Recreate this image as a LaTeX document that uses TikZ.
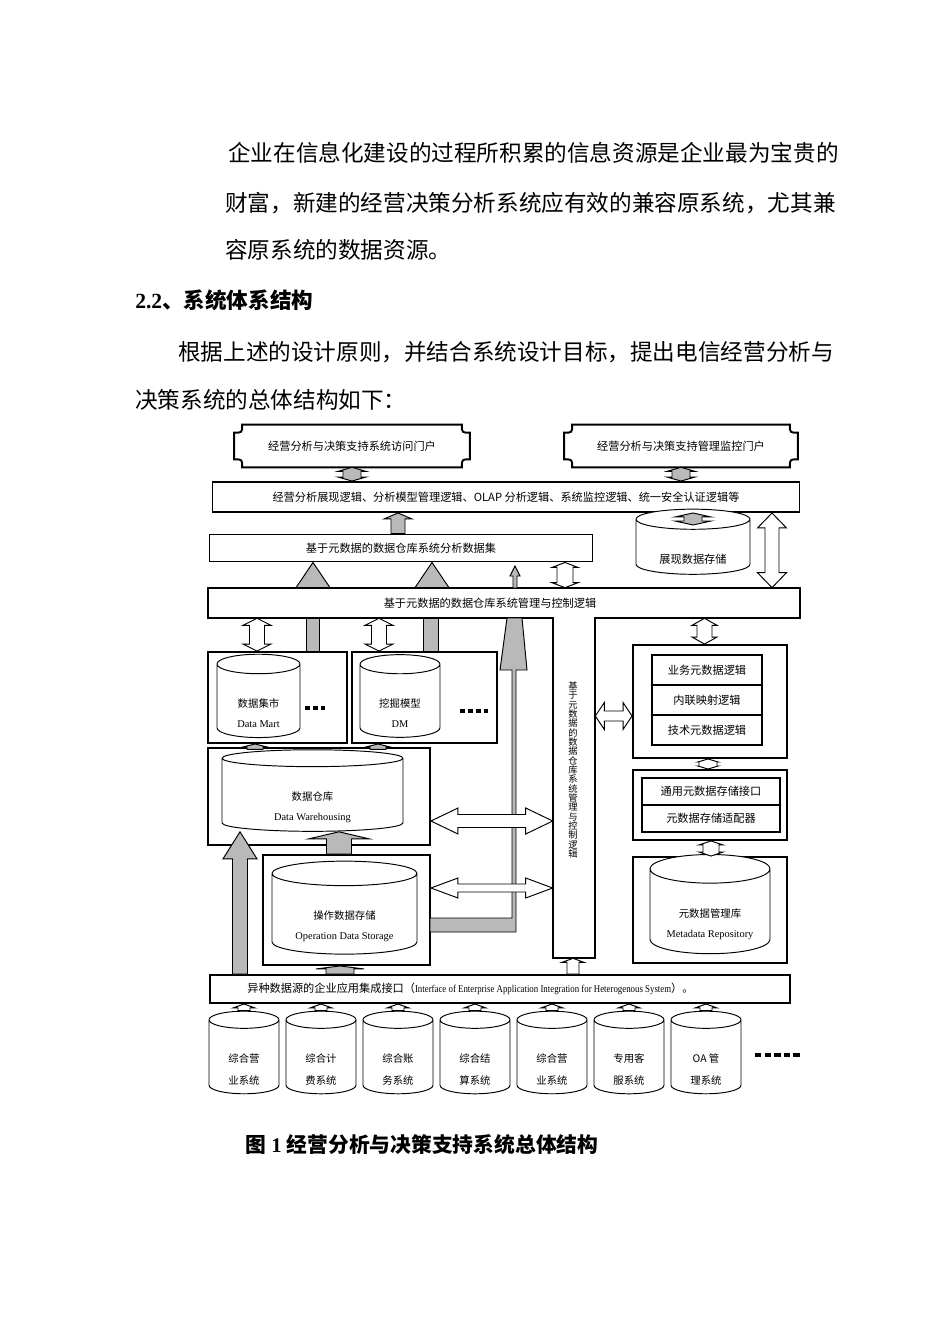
\documentclass[tikz,border=0pt]{standalone}
\usepackage{fontspec}
\usepackage{graphicx}
\setmainfont{Liberation Serif}
\newfontfamily\cjk{Noto Sans CJK SC}
\usetikzlibrary{shapes.geometric,calc}

\newcommand{\pxl}{0.626pt}
\newcommand{\sink}{\rule{0pt}{21pt}}

\tikzset{
  sz/.style 2 args={minimum width=#1*\pxl, minimum height=#2*\pxl},
  heavy/.style={line width=1.2pt},
  box/.style={draw, heavy, fill=white, inner sep=0pt},
  small/.style={font=\cjk\fontsize{7pt}{8pt}\selectfont},
  bar/.style={box, small},
  row/.style={draw, line width=0.9pt, inner sep=0pt, sz={110}{30}, small},
  db/.style={cylinder, shape border rotate=90, draw, line width=0.6pt, aspect=0.4,
    inner sep=0pt, align=center, fill=white, font=\fontsize{6.5pt}{12.5pt}\selectfont},
  src/.style={db, sz={70}{82}, aspect=0.55, font=\cjk\fontsize{6.5pt}{13.8pt}\selectfont},
  blk/.style={draw, line width=0.6pt, fill=white},
  gblk/.style={blk, fill=gray!55},
  dashline/.style={line width=2.2pt, dash pattern=on 3pt off 2pt},
  para/.style={inner sep=0pt, anchor=west, font=\cjk\fontsize{14.15pt}{17pt}\selectfont},
  vtxt/.style={inner sep=0pt, align=center, font=\cjk\fontsize{5.8pt}{5.85pt}\selectfont},
}

%% block arrows: x (or y) in px, ends taken from two anchors
%% [style]{x}{lower}{upper}{half shaft}{half head}{head length}
\newcommand{\vdbl}[7][]{%
  \path[blk,#1] let \p1=(#3), \p2=(#4) in
    ({#2*\pxl},\y1) -- ({(#2+#6)*\pxl},{\y1+#7*\pxl}) -- ({(#2+#5)*\pxl},{\y1+#7*\pxl})
    -- ({(#2+#5)*\pxl},{\y2-#7*\pxl}) -- ({(#2+#6)*\pxl},{\y2-#7*\pxl}) -- ({#2*\pxl},\y2)
    -- ({(#2-#6)*\pxl},{\y2-#7*\pxl}) -- ({(#2-#5)*\pxl},{\y2-#7*\pxl})
    -- ({(#2-#5)*\pxl},{\y1+#7*\pxl}) -- ({(#2-#6)*\pxl},{\y1+#7*\pxl}) -- cycle;}
\newcommand{\vup}[7][]{%
  \path[blk,#1] let \p1=(#3), \p2=(#4) in
    ({(#2-#5)*\pxl},\y1) -- ({(#2+#5)*\pxl},\y1) -- ({(#2+#5)*\pxl},{\y2-#7*\pxl})
    -- ({(#2+#6)*\pxl},{\y2-#7*\pxl}) -- ({#2*\pxl},\y2) -- ({(#2-#6)*\pxl},{\y2-#7*\pxl})
    -- ({(#2-#5)*\pxl},{\y2-#7*\pxl}) -- cycle;}
%% [style]{y}{left}{right}{half shaft}{half head}{head length}
\newcommand{\hdbl}[7][]{%
  \path[blk,#1] let \p1=(#3), \p2=(#4) in
    (\x1,{-#2*\pxl}) -- ({\x1+#7*\pxl},{-(#2-#6)*\pxl}) -- ({\x1+#7*\pxl},{-(#2-#5)*\pxl})
    -- ({\x2-#7*\pxl},{-(#2-#5)*\pxl}) -- ({\x2-#7*\pxl},{-(#2-#6)*\pxl}) -- (\x2,{-#2*\pxl})
    -- ({\x2-#7*\pxl},{-(#2+#6)*\pxl}) -- ({\x2-#7*\pxl},{-(#2+#5)*\pxl})
    -- ({\x1+#7*\pxl},{-(#2+#5)*\pxl}) -- ({\x1+#7*\pxl},{-(#2+#6)*\pxl}) -- cycle;}
%% gray triangle and gray shaft
\newcommand{\vtri}[4]{%
  \path[gblk] let \p1=(#2), \p2=(#3) in
    ({(#1-#4)*\pxl},\y1) -- ({#1*\pxl},\y2) -- ({(#1+#4)*\pxl},\y1) -- cycle;}
\newcommand{\vshaft}[4]{%
  \path[gblk] let \p1=(#2), \p2=(#3) in
    ({(#1-#4)*\pxl},\y1) rectangle ({(#1+#4)*\pxl},\y2);}
%% frame with hollow corners round a node
\newcommand{\plaque}[1]{%
  \draw[heavy] let \p1=(#1.south west), \p2=(#1.north east) in
    ({\x1+5pt},\y1) -- ({\x2-5pt},\y1) .. controls ({\x2-5pt},{\y1+5pt}) .. (\x2,{\y1+5pt})
    -- (\x2,{\y2-5pt}) .. controls ({\x2-5pt},{\y2-5pt}) .. ({\x2-5pt},\y2)
    -- ({\x1+5pt},\y2) .. controls ({\x1+5pt},{\y2-5pt}) .. (\x1,{\y2-5pt})
    -- (\x1,{\y1+5pt}) .. controls ({\x1+5pt},{\y1+5pt}) .. ({\x1+5pt},\y1) -- cycle;}

\begin{document}
\begin{tikzpicture}[x=0.626pt, y=-0.626pt]
\useasboundingbox[fill=white] (0,0) rectangle (950,1344);

%% page text
\node[para] (p1) at (228,153) {企业在信息化建设的过程所积累的信息资源是企业最为宝贵的};
\node[para] (p2) at (225,203) {财富，新建的经营决策分析系统应有效的兼容原系统，尤其兼};
\node[para] (p3) at (225,250) {容原系统的数据资源。};
\node[para, font=\bfseries\fontsize{13.5pt}{16pt}\selectfont] (sec) at (135,300) {2.2{\cjk 、系统体系结构}};
\node[para] (p4) at (178,352) {根据上述的设计原则，并结合系统设计目标，提出电信经营分析与};
\node[para] (p5) at (135,400) {决策系统的总体结构如下：};
\node[para, font=\bfseries\fontsize{13pt}{16pt}\selectfont] (cap) at (245,1145) {{\cjk 图} 1 {\cjk 经营分析与决策支持系统总体结构}};

%% portals
\node[small, sz={235}{42}] (visit) at (352,446) {经营分析与决策支持系统访问门户};
\node[small, sz={233}{42}] (monitor) at (681,446) {经营分析与决策支持管理监控门户};
\plaque{visit}
\plaque{monitor}

%% upper layers
\node[bar, sz={587}{30}] (logic) at (506,497) {经营分析展现逻辑、分析模型管理逻辑、OLAP 分析逻辑、系统监控逻辑、统一安全认证逻辑等};
\node[bar, sz={383}{27}] (dataset) at (401,548) {基于元数据的数据仓库系统分析数据集};
\node[db, sz={114}{63}, aspect=0.3, small] (show) at (693,547) {\sink 展现数据存储};
\coordinate (showtop) at (693,525);

%% control layer with its stem
\node[inner sep=0pt, sz={592}{30}] (ctrl) at (504,603) {};
\node[inner sep=0pt, sz={42}{340}] (stem) at (574,788) {};
\path[box] let \p1=(ctrl.north west), \p2=(ctrl.south east), \p3=(stem.south west), \p4=(stem.south east) in
  (\x1,\y1) -- (\x2,\y1) -- (\x2,\y2) -- (\x4,\y2) -- (\x4,\y3) -- (\x3,\y3) -- (\x3,\y2) -- (\x1,\y2) -- cycle;
\node[small] (ctrltxt) at (490,603) {基于元数据的数据仓库系统管理与控制逻辑};
\node[vtxt] (stemtxt) at (573,770) {基\\于\\元\\数\\据\\的\\数\\据\\仓\\库\\系\\统\\管\\理\\与\\控\\制\\逻\\辑};

%% data mart, mining model
\node[box, sz={139}{91}] (martbox) at (277.5,697.5) {};
\node[db, sz={83}{77}, aspect=0.46] (mart) at (258.5,701) {\sink{\cjk 数据集市}\\Data Mart};
\draw[dashline] (305,708) -- (325,708);
\node[box, sz={145}{91}] (dmbox) at (424.5,697.5) {};
\node[db, sz={80}{77}, aspect=0.46] (dm) at (400,701) {\sink{\cjk 挖掘模型}\\DM};
\draw[dashline] (460,711) -- (488,711);

%% warehouse, ods
\node[box, sz={222}{97}] (dwbox) at (319,796.5) {};
\node[db, sz={181}{76}, aspect=0.22] (dw) at (312.5,795) {\sink{\cjk 数据仓库}\\Data Warehousing};
\node[box, sz={167}{110}] (odsbox) at (346.5,910) {};
\node[db, sz={145}{88}, aspect=0.25] (ods) at (344.5,914) {\sink{\cjk 操作数据存储}\\Operation Data Storage};

%% metadata side
\node[box, sz={154}{113}] (metabox) at (710,701.5) {};
\node[row] (biz) at (707,670) {业务元数据逻辑};
\node[row] (map) at (707,700) {内联映射逻辑};
\node[row] (tech) at (707,730) {技术元数据逻辑};
\node[box, sz={154}{70}] (ifcbox) at (710,805) {};
\node[row, sz={138}{27}, line width=1.6pt] (ifc) at (711,791.5) {通用元数据存储接口};
\node[row, sz={138}{27}, line width=1.6pt] (adapt) at (711,818.5) {元数据存储适配器};
\node[box, sz={154}{106}] (repobox) at (710,910) {};
\node[db, sz={120}{87}, aspect=0.33] (repo) at (710,911.5) {\sink{\cjk 元数据管理库}\\Metadata Repository};

%% integration layer
\node[box, sz={580}{28}] (eai) at (500,989) {};
\node[anchor=west, inner sep=0pt, font=\fontsize{6.5pt}{8pt}\selectfont] (eaitxt) at (247,989)
  {{\cjk\fontsize{7pt}{8pt}\selectfont 异种数据源的企业应用集成接口（}\scalebox{0.85}[1]{Interface of Enterprise Application Integration for Heterogenous System}{\cjk\fontsize{7pt}{8pt}\selectfont ）。}};

%% source systems
\foreach \cx/\nm/\la/\lb in {244/s1/综合营/业系统, 321/s2/综合计/费系统, 398/s3/综合账/务系统,
    475/s4/综合结/算系统, 552/s5/综合营/业系统, 629/s6/专用客/服系统, 706/s7/OA 管/理系统}{
  \node[src] (\nm) at (\cx,1057) {\sink\la\\\lb};
  \vup{\cx}{\nm.north}{eai.south}{6}{11}{4}
}
\draw[dashline, dash pattern=on 4pt off 2pt] (755,1055) -- (800,1055);

%% arrows, top part
\vdbl[gblk]{352}{logic.north}{visit.south}{9}{14}{4}
\vdbl[gblk]{681}{logic.north}{monitor.south}{9}{14}{4}
\vup[gblk]{398}{dataset.north}{logic.south}{7}{14}{6}
\vdbl[gblk]{693}{showtop}{logic.south}{9}{18}{4}
\vdbl{772}{ctrl.north}{logic.south}{7}{14.5}{15}
\vtri{313}{ctrl.north}{dataset.south}{17}
\vtri{432}{ctrl.north}{dataset.south}{17}
\vdbl{565}{ctrl.north}{dataset.south}{8}{13}{5}

%% arrows, left part
\vshaft{313}{martbox.north}{ctrl.south}{6.5}
\vshaft{431}{dmbox.north}{ctrl.south}{7.5}
\vdbl{257}{martbox.north}{ctrl.south}{7.5}{14}{7}
\vdbl{379}{dmbox.north}{ctrl.south}{7.5}{14}{7}
\vup[gblk]{255}{dw.north}{martbox.south}{8}{12}{3}
\vup[gblk]{378}{dw.north}{dmbox.south}{8}{12}{3}
\vup[gblk]{240}{eai.north}{dw.south}{7.5}{17}{27}
\vup[gblk]{339}{odsbox.north}{dw.south}{12.5}{30}{7}
\vup[gblk]{340}{eai.north}{odsbox.south}{14}{24}{3}
%% ods to control, bent
\path[gblk] (430,932) -- (516,932) -- (516,670) -- (527,670) -- (522,618) -- (507,618)
  -- (500,670) -- (512,670) -- (512,918) -- (430,918) -- cycle;
\path[gblk] (513,588) -- (513,576) -- (510,576) -- (515,566) -- (520,576) -- (517,576) -- (517,588) -- cycle;

%% arrows, stem and metadata
\hdbl{821}{dwbox.east}{stem.west}{6.5}{13}{27}
\hdbl{888}{odsbox.east}{stem.west}{4}{10}{27}
\hdbl{716}{stem.east}{metabox.west}{5}{13.5}{9}
\vup{573}{eai.north}{stem.south}{6}{11}{4}
\vdbl{704.5}{metabox.north}{ctrl.south}{7.5}{12.5}{7}
\vdbl{708}{ifcbox.north}{metabox.south}{9}{10}{3}
\vdbl{711}{repobox.north}{ifcbox.south}{8}{12}{4}

\end{tikzpicture}
\end{document}
